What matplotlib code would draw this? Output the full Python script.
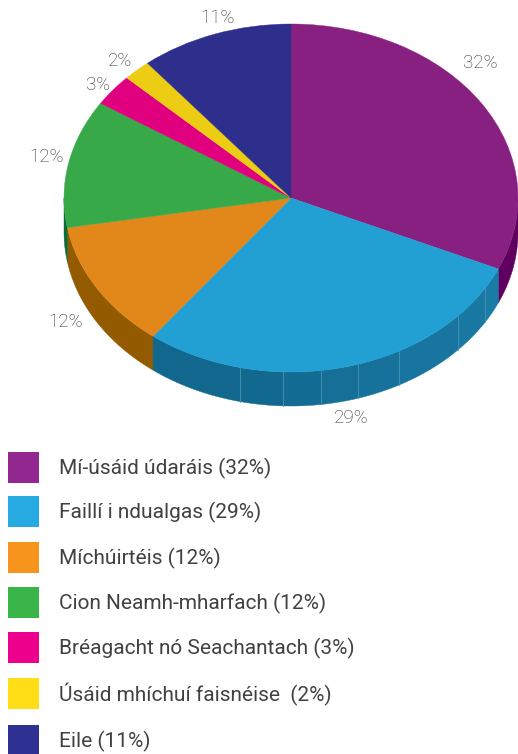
import numpy as np
import matplotlib
matplotlib.use("Agg")
import matplotlib.pyplot as plt
from matplotlib.patches import Rectangle

plt.rcParams['font.family'] = ['Roboto', 'DejaVu Sans']

names = ["Mí-úsáid údaráis", "Faillí i ndualgas", "Míchúirtéis", "Cion Neamh-mharfach",
         "Bréagacht nó Seachantach", "Úsáid mhíchuí faisnéise ", "Eile"]
values = [32, 29, 12, 12, 3, 2, 11]

top_colors = ["#882082", "#229fd3", "#e2881a", "#38a949", "#e0007f", "#eccd13", "#2e2f8c"]
wall_colors = ["#5f0060", "#146f97", "#945a00", "#0a6b35", "#a00060", "#b09000", "#1c1c60"]
legend_colors = ["#92278f", "#27aae1", "#f7941d", "#39b54a", "#ec008c", "#ffde17", "#2e3192"]
text_color = "#414042"

# pixel layout of the reference
W, H = 518, 754
cx, cy, rx, ry = 291, 198, 227, 174
depth = 34 / ry

label_pos = [(480, 63), (351, 418), (66, 322), (47, 157), (98, 85), (120, 61), (218, 18)]
legend_y = [452, 496, 542, 587, 632, 678, 725]

# where the blue side wall is split, and the colour of each strip
blue_x = [240, 283, 321, 358, 399, 458, 485]
blue_strips = ["#11678e", "#12698f", "#136c93", "#156f97", "#16729b", "#17759f", "#1979a3", "#1a7ba6"]

fig = plt.figure(figsize=(W / 100, H / 100), dpi=100)

# pie axes, unit circle stretched into the ellipse
ax = fig.add_axes([(cx - rx) / W, 1 - (cy + ry) / H, 2 * rx / W, 2 * ry / H])
wedges, _ = ax.pie(values, colors=top_colors, startangle=90, counterclock=False, radius=1,
                   wedgeprops=dict(linewidth=0.3, clip_on=False, zorder=3))
for w in wedges:
    w.set_edgecolor(w.get_facecolor())
ax.set_aspect('auto')
ax.set_xlim(-1, 1)
ax.set_ylim(-1, 1)
ax.axis('off')


def wall(t0, t1, color):
    t = np.linspace(t0, t1, 100)
    x = np.cos(t)
    y = np.sin(t)
    ax.fill(np.r_[x, x[::-1]], np.r_[y, (y - depth)[::-1]], color=color, lw=0.3,
            clip_on=False, zorder=2)


fracs = np.cumsum([0] + values) / sum(values)
angles = np.pi / 2 - 2 * np.pi * fracs
for i in range(len(values)):
    if i == 1:
        continue
    # only the part on the lower half of the ellipse can be seen
    for lo, hi in [(-np.pi, 0), (-3 * np.pi, -2 * np.pi)]:
        a, b = max(angles[i + 1], lo), min(angles[i], hi)
        if a < b:
            wall(b, a, wall_colors[i])

# blue wall in strips, from the slice's own angles
blue_edges = [angles[2]] + [-np.arccos((px - cx) / rx) for px in blue_x] + [angles[1]]
for i in range(len(blue_strips)):
    wall(blue_edges[i], blue_edges[i + 1], blue_strips[i])
for px in blue_x:
    x = (px - cx) / rx
    y = -np.sqrt(1 - x ** 2)
    ax.plot([x, x], [y, y - depth], color="#4a93b3", lw=0.6, clip_on=False, zorder=2.5)

# overlay in pixel coordinates for the texts and legend
ov = fig.add_axes([0, 0, 1, 1])
ov.set_xlim(0, W)
ov.set_ylim(H, 0)
ov.axis('off')

for v, (x, y) in zip(values, label_pos):
    ov.text(x, y, f"{v}%", ha='center', va='center', fontsize=13.5, color="#333335", fontweight='light')

for name, v, c, y in zip(names, values, legend_colors, legend_y):
    ov.add_patch(Rectangle((8, y), 31, 31, facecolor=c, edgecolor='none'))
    ov.text(59, y + 16, f"{name} ({v}%)", ha='left', va='center', fontsize=15, color=text_color)

fig.savefig("out.png", dpi=100)
